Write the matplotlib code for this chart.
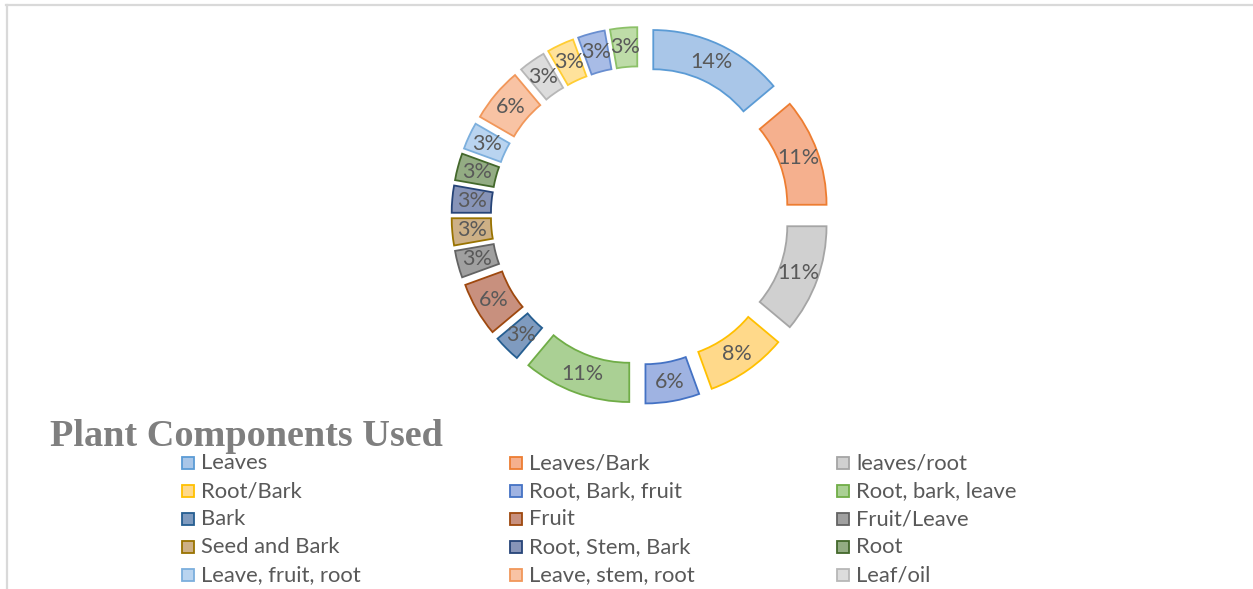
import matplotlib
matplotlib.use("Agg")
import matplotlib.pyplot as plt
from matplotlib.patches import Rectangle
from matplotlib.lines import Line2D

# ── data ──────────────────────────────────────────────────────────────────────
categories = [
    "Leaves", "Leaves/Bark", "leaves/root",
    "Root/Bark", "Root, Bark, fruit", "Root, bark, leave",
    "Bark", "Fruit", "Fruit/Leave",
    "Seed and Bark", "Root, Stem, Bark", "Root",
    "Leave, fruit, root", "Leave, stem, root", "Leaf/oil",
]
# number of plants (36 total); last three slices have no legend entry shown
counts = [5, 4, 4, 3, 2, 4, 1, 2, 1, 1, 1, 1, 1, 2, 1, 1, 1, 1]

fills = [
    "#A9C6E8", "#F5B08E", "#D0D0D0", "#FFD98A", "#9FB3E2", "#AAD094",
    "#7F9BBF", "#C8907E", "#A0A0A0", "#CDB086", "#8794B8", "#93AC83",
    "#B9D4F0", "#F8C3A4", "#DCDCDC", "#FFE29B", "#A8BCE6", "#BEDCA8",
]
edges = [
    "#5B9BD5", "#ED7D31", "#A5A5A5", "#FFC000", "#4472C4", "#70AD47",
    "#255E91", "#9E480E", "#636363", "#997300", "#264478", "#43682B",
    "#7CAFDD", "#F1975A", "#B7B7B7", "#FFCD33", "#698ED0", "#8CC168",
]

W, H = 1253, 589
TXT = "#595959"

fig = plt.figure(figsize=(W / 100, H / 100), dpi=100)
fig.patch.set_facecolor("white")

# ── background layer: frame, title, legend (pixel coords) ───────────────────
bg = fig.add_axes([0, 0, 1, 1])
bg.set_xlim(0, W)
bg.set_ylim(H, 0)
bg.axis("off")
bg.add_line(Line2D([6, W], [5, 5], color="#D9D9D9", lw=1.6))
bg.add_line(Line2D([6.5, 6.5], [5, H], color="#D9D9D9", lw=1.6))

bg.text(50, 446, "Plant Components Used", family="Liberation Serif",
        weight="bold", fontsize=27.5, color="#7F7F7F", va="baseline", ha="left")

col_x = [188, 516, 843]
row_y = [463, 491, 519, 547, 575]
for i, name in enumerate(categories):
    r, c = divmod(i, 3)
    x, y = col_x[c], row_y[r]
    bg.add_patch(Rectangle((x - 6, y - 6), 12, 12, facecolor=fills[i],
                           edgecolor=edges[i], lw=1.3))
    bg.text(x + 13, y, name, family="Lato", fontsize=15.8, color=TXT,
            va="center", ha="left")

# ── doughnut ────────────────────────────────────────────────────────────────
cx, cy, R = 640, 215.5, 157
half = 1.5 * R
ax = fig.add_axes([(cx - half) / W, (H - cy - half) / H, 2 * half / W, 2 * half / H])
ax.patch.set_alpha(0)

wedges, texts, autotexts = ax.pie(
    counts, explode=[0.2] * len(counts), colors=fills,
    startangle=90, counterclock=False,
    autopct="%.0f%%", pctdistance=0.876,
    wedgeprops=dict(width=0.25, linewidth=1.3),
    textprops=dict(family="Lato", fontsize=15.5, color=TXT),
)
for w, ec in zip(wedges, edges):
    w.set_edgecolor(ec)
ax.set_xlim(-1.5, 1.5)
ax.set_ylim(-1.5, 1.5)
ax.set_aspect("equal")
ax.axis("off")

fig.savefig("out.png", dpi=100)
